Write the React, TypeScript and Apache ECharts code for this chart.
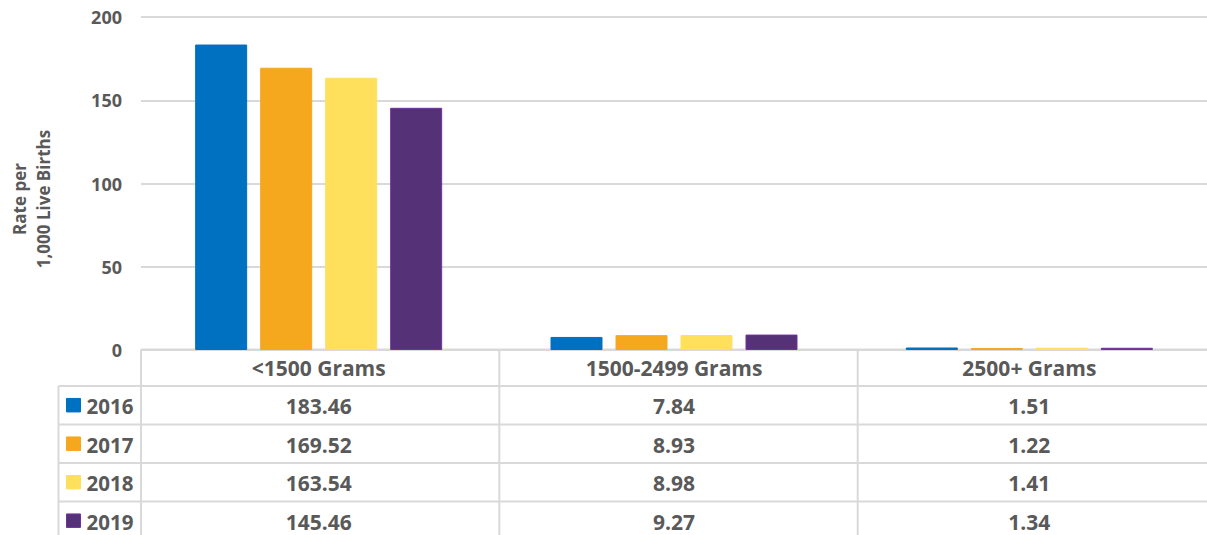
import React, { useEffect, useRef } from "react";
import * as echarts from "echarts";

const categories = ["<1500 Grams", "1500-2499 Grams", "2500+ Grams"];
const years = ["2016", "2017", "2018", "2019"];
const values2016 = [183.46, 7.84, 1.51];
const values2017 = [169.52, 8.93, 1.22];
const values2018 = [163.54, 8.98, 1.41];
const values2019 = [145.46, 9.27, 1.34];
const yTicks = { min: 0, max: 200, interval: 50 };
const axisTitle = "Rate per\n1,000 Live Births";

const seriesValues = [values2016, values2017, values2018, values2019];
const colors = ["#0070C0", "#F5A81E", "#FFE05C", "#553278"];
const borders = ["#0070C0", "#F5A81E", "#FFE05C", "#7030A0"];

const FONT = "'Open Sans', 'Noto Sans', sans-serif";
const TXT = "#595959";
const LINE = "#D9D9D9";

export default function App() {
  const ref = useRef<HTMLDivElement>(null);
  useEffect(() => {
    if (!ref.current) return;
    const chart = echarts.init(ref.current, undefined, { renderer: "svg" });
    const gridLeft = 141;
    const gridTop = 17;
    const gridW = 1075;
    const gridH = 333;
    const option: any = {
      animation: false,
      backgroundColor: "#ffffff",
      grid: { left: gridLeft, top: gridTop, width: gridW, height: gridH, containLabel: false },
      xAxis: {
        type: "category",
        data: categories,
        axisLine: { show: false },
        axisTick: { show: false },
        axisLabel: {
          margin: 18,
          verticalAlign: "middle",
          color: TXT,
          fontFamily: FONT,
          fontWeight: "bold",
          fontSize: 21,
        },
      },
      yAxis: {
        type: "value",
        min: yTicks.min,
        max: yTicks.max,
        interval: yTicks.interval,
        axisLine: { show: false },
        axisTick: { show: false },
        splitLine: { lineStyle: { color: LINE, width: 2 } },
        axisLabel: {
          margin: 19,
          color: TXT,
          fontFamily: FONT,
          fontWeight: "bold",
          fontSize: 18,
          padding: [5, 0, 0, 0],
        },
      },
      series: years.map((y, i) => ({
        name: y,
        type: "bar",
        data: seriesValues[i],
        barWidth: 52,
        barGap: "25%",
        itemStyle: { color: colors[i], borderColor: borders[i], borderWidth: 1 },
      })),
    };
    chart.setOption(option);

    // Data table built from the same arrays
    const tableTop = 349.5;
    const headerBottom = 386;
    const rowH = 38.5;
    const legendLeft = 58.5;
    const bottom = 545;
    const colEdges = [0, 1, 2, 3].map((i) => gridLeft + (gridW / 3) * i);
    const centers = categories.map((c) => chart.convertToPixel({ xAxisIndex: 0 }, c) as number);
    const els: any[] = [];
    const line = (x1: number, y1: number, x2: number, y2: number) =>
      els.push({ type: "line", silent: true, shape: { x1, y1, x2, y2 }, style: { stroke: LINE, lineWidth: 2 } });
    line(gridLeft, tableTop, 1300, tableTop);
    for (let r = 0; r <= 4; r++) {
      const y = headerBottom + rowH * r;
      line(legendLeft, y, 1300, y);
    }
    line(legendLeft, headerBottom, legendLeft, bottom);
    colEdges.forEach((x) => line(x, tableTop, x, bottom));

    years.forEach((y, i) => {
      const cy = headerBottom + rowH * i + rowH / 2;
      els.push({
        type: "rect",
        silent: true,
        shape: { x: 66.5, y: cy - 6.8, width: 14, height: 13.5 },
        style: { fill: colors[i], stroke: borders[i], lineWidth: 1 },
      });
      els.push({
        type: "text",
        silent: true,
        x: 86.5,
        y: cy + 1,
        style: {
          text: y,
          fill: TXT,
          font: `bold 20.5px ${FONT}`,
          textAlign: "left",
          textVerticalAlign: "middle",
        },
      });
      seriesValues[i].forEach((v, j) => {
        els.push({
          type: "text",
          silent: true,
          x: centers[j],
          y: cy + 1,
          style: {
            text: v.toFixed(2),
            fill: TXT,
            font: `bold 21px ${FONT}`,
            textAlign: "center",
            textVerticalAlign: "middle",
          },
        });
      });
    });

    els.push({
      type: "text",
      silent: true,
      x: 31,
      y: 199,
      rotation: Math.PI / 2,
      style: {
        text: axisTitle,
        fill: TXT,
        font: `bold 17px ${FONT}`,
        textAlign: "center",
        textVerticalAlign: "middle",
        lineHeight: 24,
      },
    });

    chart.setOption({ graphic: { elements: els } });
    return () => chart.dispose();
  }, []);
  return (
    <div
      ref={ref}
      style={{ position: "absolute", left: 0, top: 0, width: 1207, height: 535, background: "#fff" }}
    />
  );
}
